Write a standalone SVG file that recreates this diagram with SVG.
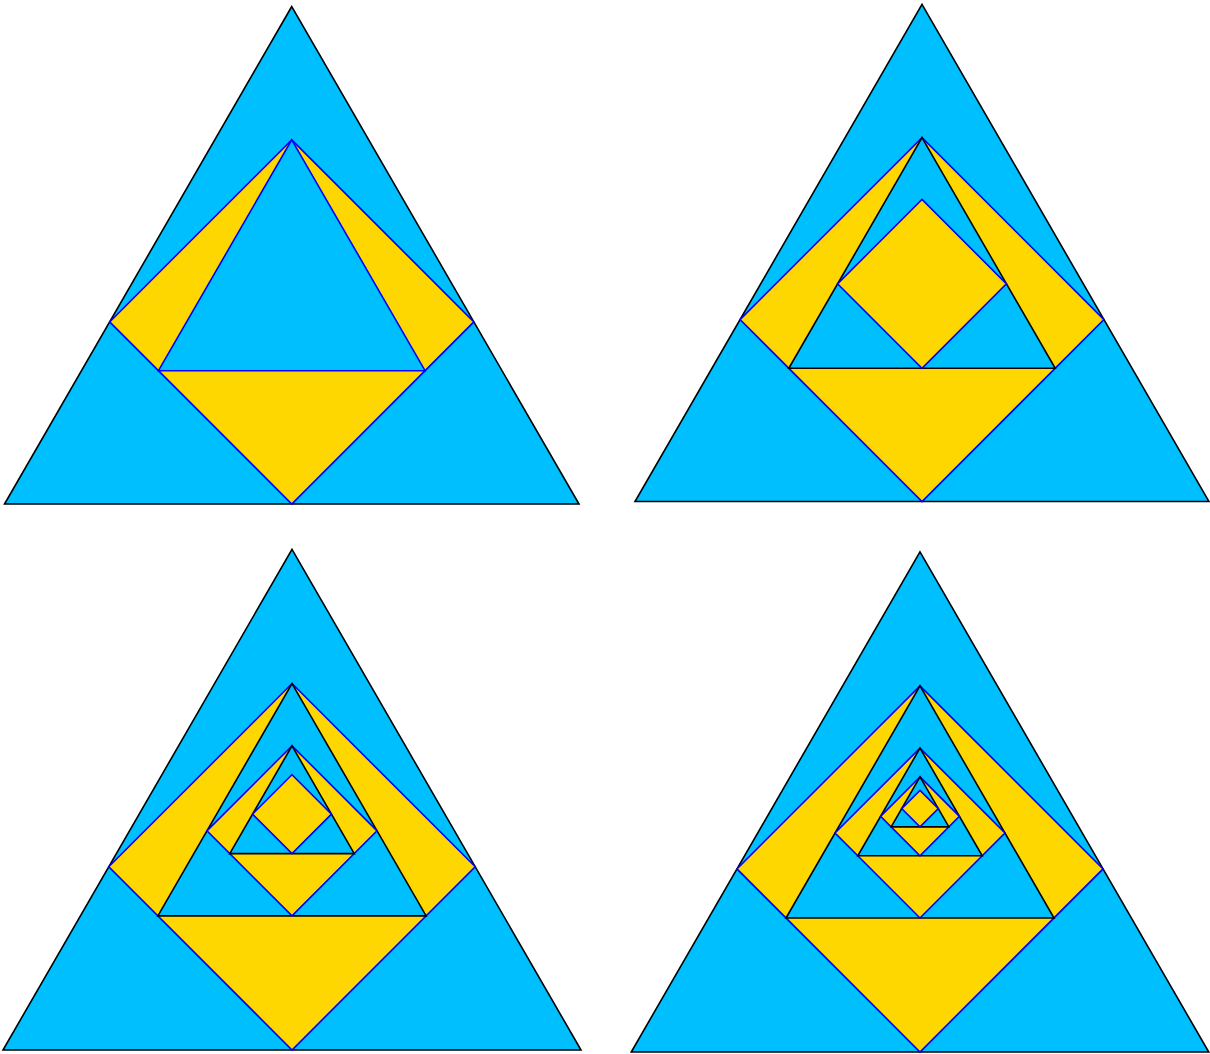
<svg xmlns="http://www.w3.org/2000/svg" width="1210" height="1054" viewBox="0 0 1210 1054">
<style>
.tri{fill:#00BFFF;stroke:#000;stroke-width:1.6;stroke-linejoin:miter}
.trib{fill:#00BFFF;stroke:#0000FF;stroke-width:1.6}
.sq{fill:#FFD700;stroke:#0000FF;stroke-width:1.6}
</style>
<rect width="1210" height="1054" fill="#fff"/>
<g id="fig-top-left">
<polygon class="tri" points="291.75,6.5 4.5,504 579,504"/>
<polygon class="sq" points="291.75,139.82 473.84,321.91 291.75,504 109.66,321.91"/>
<polygon class="trib" points="291.75,139.82 425.05,370.71 158.45,370.71"/>
</g>
<g id="fig-top-right">
<polygon class="tri" points="922,4.4 1209,501.5 635,501.5"/>
<polygon class="sq" points="922,137.61 1103.94,319.56 922,501.5 740.06,319.56"/>
<polygon class="tri" points="922,137.61 1055.2,368.31 788.8,368.31"/>
<polygon class="sq" points="922,199.43 1006.44,283.87 922,368.31 837.56,283.87"/>
</g>
<g id="fig-bottom-left">
<polygon class="tri" points="292,549.4 581,1050 3,1050"/>
<polygon class="sq" points="292,683.55 475.22,866.78 292,1050 108.78,866.78"/>
<polygon class="tri" points="292,683.55 426.14,915.88 157.86,915.88"/>
<polygon class="sq" points="292,745.81 377.04,830.84 292,915.88 206.96,830.84"/>
<polygon class="tri" points="292,745.81 354.25,853.63 229.75,853.63"/>
<polygon class="sq" points="292,774.7 331.47,814.16 292,853.63 252.53,814.16"/>
</g>
<g id="fig-bottom-right">
<polygon class="tri" points="920,551.9 1208.75,1052 631.25,1052"/>
<polygon class="sq" points="920,685.88 1103.06,868.94 920,1052 736.94,868.94"/>
<polygon class="tri" points="920,685.88 1054.01,917.99 785.99,917.99"/>
<polygon class="sq" points="920,748.07 1004.96,833.03 920,917.99 835.04,833.03"/>
<polygon class="tri" points="920,748.07 982.19,855.79 857.81,855.79"/>
<polygon class="sq" points="920,776.93 959.43,816.36 920,855.79 880.57,816.36"/>
<polygon class="tri" points="920,776.93 948.86,826.92 891.14,826.92"/>
<polygon class="sq" points="920,790.32 938.3,808.62 920,826.92 901.7,808.62"/>
</g>
</svg>
